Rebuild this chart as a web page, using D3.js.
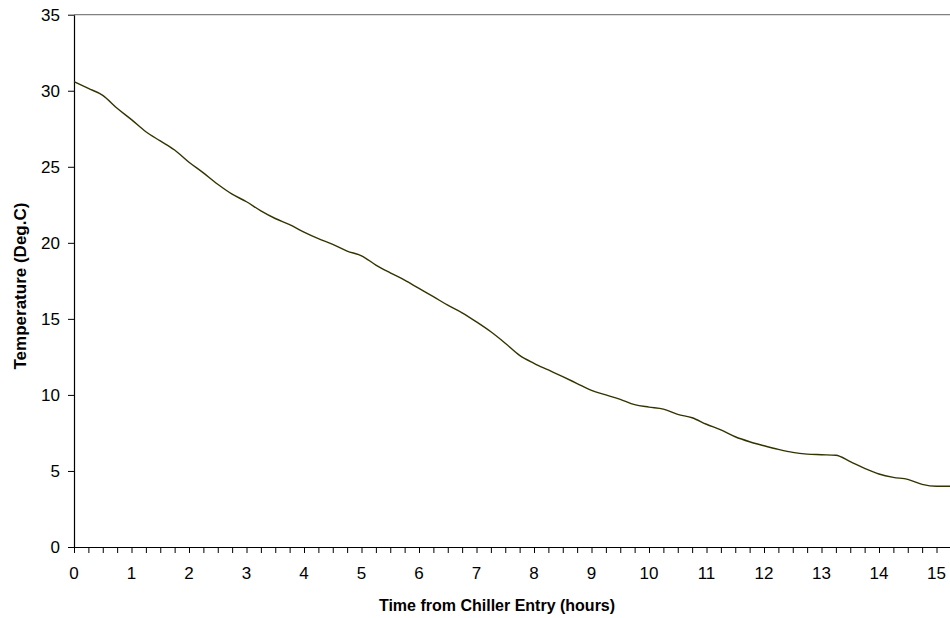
<!DOCTYPE html>
<html>
<head>
<meta charset="utf-8">
<script src="https://cdn.jsdelivr.net/npm/d3@7/dist/d3.min.js"></script>
<style>
  html, body { margin: 0; padding: 0; background: #fff; }
  svg { display: block; font-family: "Liberation Sans", Arial, sans-serif; }
</style>
</head>
<body>
<svg id="chart" width="950" height="618"></svg>
<script>
// readings every 15 minutes from chiller entry
var hours = d3.range(0, 15.5, 0.25)
var temps = [
  30.6, 30.15, 29.7, 28.85, 28.1, 27.3, 26.7, 26.1,
  25.3, 24.6, 23.85, 23.2, 22.7, 22.1, 21.6, 21.2,
  20.7, 20.27, 19.9, 19.46, 19.15, 18.54, 18.03, 17.55,
  17.0, 16.46, 15.9, 15.4, 14.8, 14.15, 13.4, 12.6,
  12.08, 11.64, 11.2, 10.75, 10.3, 10.0, 9.71, 9.36,
  9.2, 9.07, 8.72, 8.5, 8.07, 7.7, 7.25, 6.92,
  6.66, 6.42, 6.22, 6.11, 6.07, 6.03, 5.61, 5.17,
  4.8, 4.58, 4.45, 4.12, 3.99, 3.99
]
var xTickLabels = d3.range(0, 16)
var yTickLabels = [0, 5, 10, 15, 20, 25, 30, 35]

var data = hours.map((h, i) => ({ h: h, t: temps[i] }))

// note: "top" is a read-only window global, so use plot* names
var plotLeft = 74, plotTop = 14.7, plotBottom = 547
var svg = d3.select("#chart")

var x = d3.scaleLinear().domain([0, 15.5]).range([plotLeft, plotLeft + 15.5 * 57.5])
var y = d3.scaleLinear().domain([0, 35]).range([plotBottom, plotTop])

// plot area top border (grey)
svg.append("line")
  .attr("x1", plotLeft).attr("x2", 960)
  .attr("y1", plotTop).attr("y2", plotTop)
  .attr("stroke", "#808080").attr("stroke-width", 1.3)

// y axis
var yAxis = svg.append("g")
  .attr("transform", `translate(${plotLeft},0)`)
  .call(d3.axisLeft(y).tickValues(yTickLabels).tickSize(6).tickPadding(8).tickSizeOuter(0))
yAxis.select(".domain").attr("stroke", "#000").attr("stroke-width", 1.2)
yAxis.selectAll(".tick line").attr("stroke", "#000")
yAxis.selectAll("text").attr("font-size", 17).attr("fill", "#000")
  .attr("font-family", "Liberation Sans, Arial, sans-serif")

// x axis: minor ticks every quarter hour, labels every hour
var xAxis = svg.append("g")
  .attr("transform", `translate(0,${plotBottom})`)
  .call(d3.axisBottom(x).tickValues(hours).tickSize(6).tickSizeOuter(0).tickFormat(""))
xAxis.select(".domain").attr("stroke", "#000").attr("stroke-width", 1.2)
xAxis.selectAll(".tick line").attr("stroke", "#000")

svg.append("g").selectAll("text")
  .data(xTickLabels)
  .enter()
  .append("text")
  .attr("x", d => x(d))
  .attr("y", 579)
  .attr("text-anchor", "middle")
  .attr("font-size", 17)
  .attr("fill", "#000")
  .text(d => d)

// the cooling curve
var line = d3.line()
  .x(d => x(d.h))
  .y(d => y(d.t))
  .curve(d3.curveMonotoneX)

svg.append("path")
  .datum(data)
  .attr("d", line)
  .attr("fill", "none")
  .attr("stroke", "#333300")
  .attr("stroke-width", 1.4)

// axis titles
svg.append("text")
  .attr("x", 497).attr("y", 611)
  .attr("text-anchor", "middle")
  .attr("font-size", 16).attr("font-weight", "bold")
  .text("Time from Chiller Entry (hours)")

svg.append("text")
  .attr("transform", "translate(25.5,369.5) rotate(-90)")
  .attr("text-anchor", "start")
  .attr("font-size", 17).attr("font-weight", "bold")
  .text("Temperature (Deg.C)")
</script>
</body>
</html>
